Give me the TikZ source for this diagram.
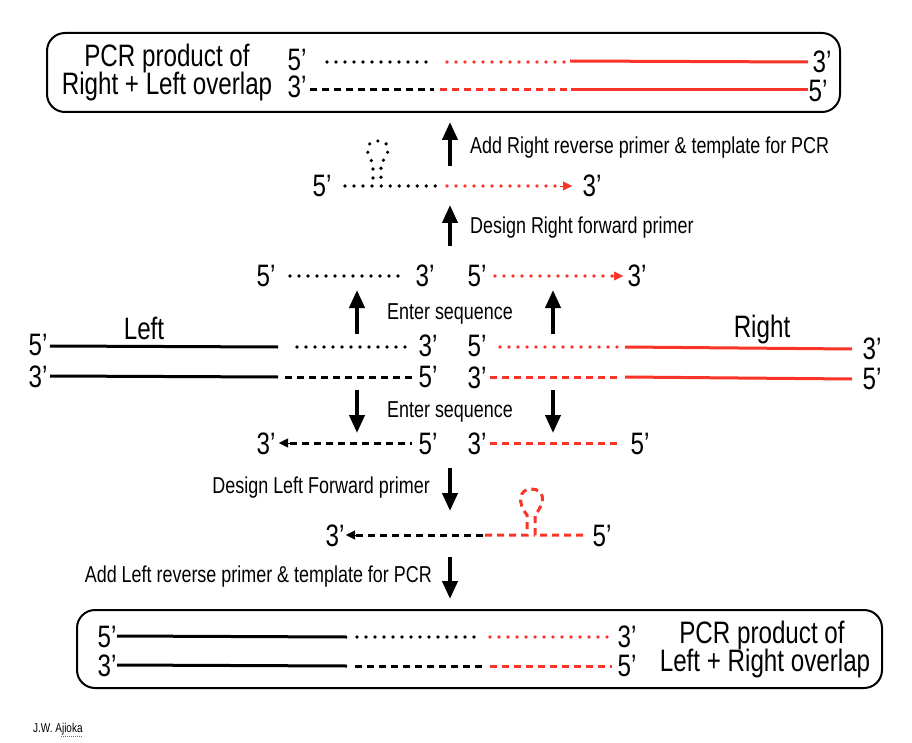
\documentclass[tikz,border=0pt]{standalone}
\usepackage{fontspec}
\setmainfont[FakeStretch=0.78]{Liberation Sans}
\usetikzlibrary{arrows.meta}
\definecolor{strandred}{RGB}{250,52,38}
\begin{document}
\begin{tikzpicture}[x=1pt,y=-1pt,
  big/.style={font=\fontsize{31}{31}\selectfont, inner sep=0pt},
  prime/.style={font=\fontsize{31}{31}\selectfont, inner sep=0pt, text height=21pt, text depth=0pt},
  steplabel/.style={font=\fontsize{23}{23}\selectfont, inner sep=0pt},
  solidk/.style={line width=3pt, black},
  solidr/.style={line width=3pt, strandred},
  dotk/.style={line width=3.6pt, line cap=round, dash pattern=on 0pt off 9pt},
  dashk/.style={line width=3pt, dash pattern=on 7pt off 5pt},
  bigarrow/.style={line width=4pt, -{Triangle[length=18pt,width=15pt]}},
  tiphead/.style={-{Triangle[length=9pt,width=9pt]}},
  prodbox/.style={draw, line width=2pt, rounded corners=18pt, inner sep=0pt}]
\useasboundingbox (0,0) rectangle (912,743);

% ---------- top box ----------
\node (topbox) [prodbox, minimum width=793pt, minimum height=79pt] at (443.5,72.5) {};
\node (tl1) [big] at (167,58) {PCR product of};
\node (tl2) [big] at (167,86) {Right + Left overlap};
\node (t5a) [prime] at (297,60) {5’};
\node (t3a) [prime] at (822,62) {3’};
\node (t3b) [prime] at (297,87) {3’};
\node (t5b) [prime] at (818,91) {5’};
\coordinate (ta1) at (327,62); \coordinate (ta2) at (430,62);
\coordinate (ta3) at (447,62); \coordinate (ta4) at (565,62);
\coordinate (ta5) at (570,61); \coordinate (ta6) at (808,62);
\draw[dotk] (ta1) -- (ta2);
\draw[dotk, strandred] (ta3) -- (ta4);
\draw[solidr] (ta5) -- (ta6);
\coordinate (tb1) at (310,90); \coordinate (tb2) at (434,90);
\coordinate (tb3) at (440,90); \coordinate (tb4) at (567,90);
\coordinate (tb5) at (571,90); \coordinate (tb6) at (808,90);
\draw[dashk] (tb1) -- (tb2);
\draw[dashk, strandred] (tb3) -- (tb4);
\draw[solidr] (tb5) -- (tb6);

% ---------- arrow 1 ----------
\coordinate (a1s) at (450,166); \coordinate (a1e) at (450,122);
\draw[bigarrow] (a1s) -- (a1e);
\node (lab1) [steplabel, anchor=west] at (470,148) {Add Right reverse primer \& template for PCR};

% ---------- hairpin strand (right forward primer) ----------
\node (h5) [prime] at (322,186) {5’};
\node (h3) [prime] at (592,186) {3’};
\coordinate (h1) at (345,186); \coordinate (h2) at (373,186);
\coordinate (h2u) at (373,163); \coordinate (htop) at (378,141);
\coordinate (h3u) at (381,163); \coordinate (h3d) at (381,186);
\coordinate (h4) at (440,186);
\coordinate (h5r) at (447,186); \coordinate (h6r) at (555,186);
\coordinate (h6b) at (560,186); \coordinate (h6t) at (572,186);
\draw[dotk] (h1) -- (h2) -- (h2u) .. controls (364,151) and (366,141) .. (htop)
   .. controls (391,141) and (391,153) .. (h3u) -- (h3d) -- (h4);
\draw[dotk, strandred] (h5r) -- (h6r);
\draw[strandred, tiphead] (h6b) -- (h6t);

% ---------- arrow 2 ----------
\coordinate (a2s) at (450,246); \coordinate (a2e) at (450,205);
\draw[bigarrow] (a2s) -- (a2e);
\node (lab2) [steplabel, anchor=west] at (470,228) {Design Right forward primer};

% ---------- row 3 ----------
\node (r3a) [prime] at (266,276) {5’};
\node (r3b) [prime] at (425,276) {3’};
\node (r3c) [prime] at (477,276) {5’};
\node (r3d) [prime] at (637,276) {3’};
\coordinate (r3p1) at (290,276); \coordinate (r3p2) at (400,276);
\coordinate (r3p3) at (495,276); \coordinate (r3p4) at (612,276);
\coordinate (r3p5) at (623,276);
\draw[dotk] (r3p1) -- (r3p2);
\draw[dotk, strandred] (r3p3) -- (r3p4);
\draw[strandred, tiphead] (r3p4) -- (r3p5);

% ---------- up arrows ----------
\coordinate (a3s) at (357,334); \coordinate (a3e) at (357,290);
\coordinate (a4s) at (553,334); \coordinate (a4e) at (553,290);
\draw[bigarrow] (a3s) -- (a3e);
\draw[bigarrow] (a4s) -- (a4e);
\node (lab3) [steplabel] at (450,314) {Enter sequence};

% ---------- Left / Right templates ----------
\node (left) [big] at (144,328) {Left};
\node (right) [big] at (762,329) {Right};
\node (r4a) [prime] at (38,345) {5’};
\node (r4b) [prime] at (428,346) {3’};
\node (r4c) [prime] at (477,346) {5’};
\node (r4d) [prime] at (872,349) {3’};
\coordinate (r4p1) at (50,346); \coordinate (r4p2) at (278,347);
\coordinate (r4p3) at (297,347); \coordinate (r4p4) at (410,347);
\coordinate (r4p5) at (500,347); \coordinate (r4p6) at (618,347);
\coordinate (r4p7) at (625,347); \coordinate (r4p8) at (852,349);
\draw[solidk] (r4p1) -- (r4p2);
\draw[dotk] (r4p3) -- (r4p4);
\draw[dotk, strandred] (r4p5) -- (r4p6);
\draw[solidr] (r4p7) -- (r4p8);

\node (r5a) [prime] at (38,377) {3’};
\node (r5b) [prime] at (428,377) {5’};
\node (r5c) [prime] at (477,378) {3’};
\node (r5d) [prime] at (872,379) {5’};
\coordinate (r5p1) at (50,376); \coordinate (r5p2) at (278,377);
\coordinate (r5p3) at (285,377); \coordinate (r5p4) at (412,377);
\coordinate (r5p5) at (490,377); \coordinate (r5p6) at (620,377);
\coordinate (r5p7) at (625,377); \coordinate (r5p8) at (852,379);
\draw[solidk] (r5p1) -- (r5p2);
\draw[dashk] (r5p3) -- (r5p4);
\draw[dashk, strandred] (r5p5) -- (r5p6);
\draw[solidr] (r5p7) -- (r5p8);

% ---------- down arrows ----------
\coordinate (a5s) at (357,390); \coordinate (a5e) at (357,433);
\coordinate (a6s) at (553,390); \coordinate (a6e) at (553,433);
\draw[bigarrow] (a5s) -- (a5e);
\draw[bigarrow] (a6s) -- (a6e);
\node (lab4) [steplabel] at (450,412) {Enter sequence};

% ---------- row 6 ----------
\node (r6a) [prime] at (266,444) {3’};
\node (r6b) [prime] at (428,444) {5’};
\node (r6c) [prime] at (477,444) {3’};
\node (r6d) [prime] at (640,444) {5’};
\coordinate (r6t) at (279,443); \coordinate (r6p1) at (290,443);
\coordinate (r6p2) at (412,443);
\coordinate (r6p3) at (490,443); \coordinate (r6p4) at (620,443);
\draw[dashk] (r6p1) -- (r6p2);
\draw[tiphead] (r6p1) -- (r6t);
\draw[dashk, strandred] (r6p3) -- (r6p4);

% ---------- arrow 7 ----------
\coordinate (a7s) at (450,468); \coordinate (a7e) at (450,511);
\draw[bigarrow] (a7s) -- (a7e);
\node (lab5) [steplabel, anchor=east] at (430,488) {Design Left Forward primer};

% ---------- hairpin strand (left forward primer) ----------
\node (q3) [prime] at (335,536) {3’};
\node (q5) [prime] at (602,536) {5’};
\coordinate (qt) at (346,535); \coordinate (q1) at (356,535);
\coordinate (q2) at (485,535);
\coordinate (q3b) at (527,535); \coordinate (q3u) at (527,515);
\coordinate (qtop) at (531,489); \coordinate (q4u) at (535,515);
\coordinate (q4b) at (535,535); \coordinate (q5e) at (584,535);
\draw[dashk] (q1) -- (q2);
\draw[tiphead] (q1) -- (qt);
\draw[dashk, strandred] (q2) -- (q3b) -- (q3u) .. controls (517,503) and (519,489) .. (qtop)
   .. controls (545,489) and (546,502) .. (q4u) -- (q4b) -- (q5e);

% ---------- arrow 8 ----------
\coordinate (a8s) at (450,557); \coordinate (a8e) at (450,599);
\draw[bigarrow] (a8s) -- (a8e);
\node (lab6) [steplabel, anchor=east] at (432,577) {Add Left reverse primer \& template for PCR};

% ---------- bottom box ----------
\node (botbox) [prodbox, minimum width=805pt, minimum height=78pt] at (479.5,649) {};
\node (bl1) [big] at (762,635) {PCR product of};
\node (bl2) [big] at (765,663) {Left + Right overlap};
\node (b5a) [prime] at (107,637) {5’};
\node (b3a) [prime] at (627,637) {3’};
\node (b3b) [prime] at (107,666) {3’};
\node (b5b) [prime] at (627,666) {5’};
\coordinate (ba1) at (117,636); \coordinate (ba2) at (347,637);
\coordinate (ba3) at (357,637); \coordinate (ba4) at (475,637);
\coordinate (ba5) at (490,637); \coordinate (ba6) at (612,637);
\draw[solidk] (ba1) -- (ba2);
\draw[dotk] (ba3) -- (ba4);
\draw[dotk, strandred] (ba5) -- (ba6);
\coordinate (bb1) at (117,665); \coordinate (bb2) at (347,666);
\coordinate (bb3) at (355,666); \coordinate (bb4) at (486,666);
\coordinate (bb5) at (490,666); \coordinate (bb6) at (612,666);
\draw[solidk] (bb1) -- (bb2);
\draw[dashk] (bb3) -- (bb4);
\draw[dashk, strandred] (bb5) -- (bb6);

% ---------- author ----------
\node (auth) [anchor=west, inner sep=0pt, font=\fontsize{12.8}{12.8}\selectfont] at (33,729) {J.W. Ajioka};
\coordinate (u1) at (61,736); \coordinate (u2) at (83,736);
\draw[strandred, line width=0.8pt, dash pattern=on 1pt off 1pt] (u1) -- (u2);
\end{tikzpicture}
\end{document}
